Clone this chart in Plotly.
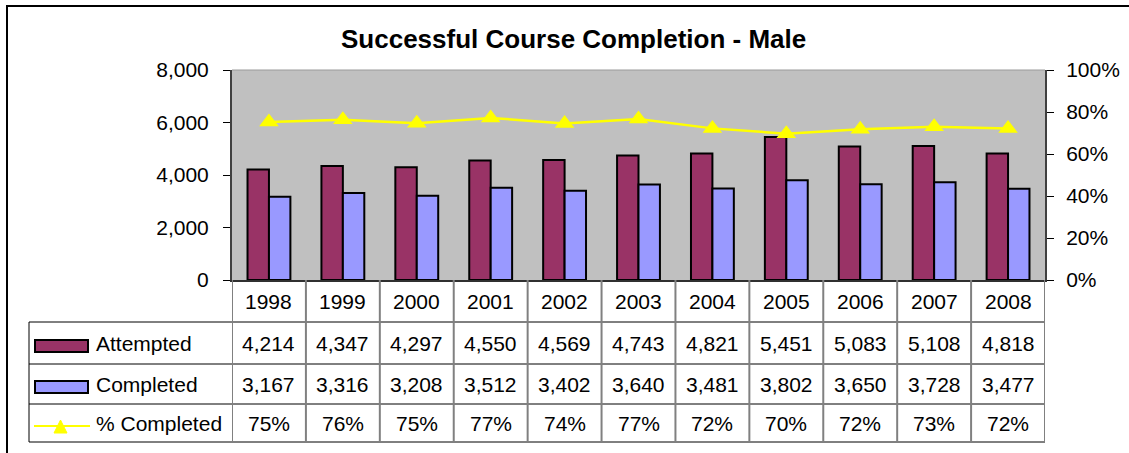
import plotly.graph_objects as go

# Data
years = ["1998", "1999", "2000", "2001", "2002", "2003", "2004", "2005", "2006", "2007", "2008"]
attempted = [4214, 4347, 4297, 4550, 4569, 4743, 4821, 5451, 5083, 5108, 4818]
completed = [3167, 3316, 3208, 3512, 3402, 3640, 3481, 3802, 3650, 3728, 3477]
pct_completed = [0.752, 0.763, 0.747, 0.772, 0.745, 0.767, 0.722, 0.697, 0.718, 0.730, 0.722]
left_ticks = [0, 2000, 4000, 6000, 8000]
right_ticks = [0, 0.2, 0.4, 0.6, 0.8, 1.0]

W, H = 1129, 453
FONT = "Liberation Sans, Arial, sans-serif"
C_ATT = "#993366"
C_COMP = "#9999FF"
C_LINE = "#FFFF00"


def px(x):
    return x / W


def py(y):
    return 1 - y / H


# plot area in pixels
PL, PR, PT, PB = 232, 1045, 70, 280
# table rows (pixel y)
ROW_Y = [280, 322, 364, 404, 442]
TABLE_LEFT = 29

xs = list(range(len(years)))

fig = go.Figure()
fig.add_trace(go.Bar(
    x=xs, y=attempted, name="Attempted",
    marker=dict(color=C_ATT, line=dict(color="black", width=2)),
))
fig.add_trace(go.Bar(
    x=xs, y=completed, name="Completed",
    marker=dict(color=C_COMP, line=dict(color="black", width=2)),
))
fig.add_trace(go.Scatter(
    x=xs, y=pct_completed, name="% Completed", yaxis="y2",
    mode="lines+markers",
    line=dict(color=C_LINE, width=2.5),
    marker=dict(symbol="triangle-up", size=17, color=C_LINE),
))

shapes = []
annotations = []

# outer chart border
shapes.append(dict(type="rect", xref="paper", yref="paper",
                   x0=px(7), x1=px(W + 20), y0=py(H + 20), y1=py(6),
                   line=dict(color="black", width=2), fillcolor="rgba(0,0,0,0)", layer="below"))
# top edge of plot area
shapes.append(dict(type="line", xref="paper", yref="paper",
                   x0=px(PL), x1=px(PR), y0=py(PT), y1=py(PT),
                   line=dict(color="#9A9A9A", width=1)))

# table horizontal rules
for yy in ROW_Y[1:]:
    shapes.append(dict(type="line", xref="paper", yref="paper",
                       x0=px(TABLE_LEFT), x1=px(PR), y0=py(yy), y1=py(yy),
                       line=dict(color="black", width=1)))
# table left edge
shapes.append(dict(type="line", xref="paper", yref="paper",
                   x0=px(TABLE_LEFT), x1=px(TABLE_LEFT), y0=py(ROW_Y[1]), y1=py(ROW_Y[-1]),
                   line=dict(color="black", width=1)))
# column separators between categories
for i in range(len(years) + 1):
    shapes.append(dict(type="line", xref="x", yref="paper",
                       x0=i - 0.5, x1=i - 0.5, y0=py(ROW_Y[0]), y1=py(ROW_Y[-1]),
                       line=dict(color="#808080", width=2)))

# year labels and table values
row_centers = [(ROW_Y[k] + ROW_Y[k + 1]) / 2 for k in range(4)]
for i, yr in enumerate(years):
    for k, txt in enumerate([yr, f"{attempted[i]:,}", f"{completed[i]:,}",
                             f"{round(pct_completed[i] * 100):d}%"]):
        annotations.append(dict(x=i, y=py(row_centers[k]), xref="x", yref="paper",
                                text=txt, showarrow=False, xanchor="center", yanchor="middle",
                                font=dict(family=FONT, size=21, color="black")))

# legend keys inside the table
labels = ["Attempted", "Completed", "% Completed"]
for k, lab in enumerate(labels):
    cy = row_centers[k + 1]
    annotations.append(dict(x=px(94), y=py(cy), xref="paper", yref="paper",
                            text=lab, showarrow=False, xanchor="left", yanchor="middle",
                            font=dict(family=FONT, size=21, color="black")))
for k, col in enumerate([C_ATT, C_COMP]):
    cy = row_centers[k + 1] + 3
    shapes.append(dict(type="rect", xref="paper", yref="paper",
                       x0=px(35), x1=px(88), y0=py(cy - 6), y1=py(cy + 6),
                       fillcolor=col, line=dict(color="black", width=2)))
cy = row_centers[3] + 3
shapes.append(dict(type="line", xref="paper", yref="paper",
                   x0=px(34), x1=px(90), y0=py(cy), y1=py(cy),
                   line=dict(color=C_LINE, width=2)))
shapes.append(dict(type="path", xref="paper", yref="paper",
                   path=f"M {px(54)} {py(cy + 7)} L {px(67)} {py(cy + 7)} L {px(60.5)} {py(cy - 6)} Z",
                   fillcolor=C_LINE, line=dict(color=C_LINE, width=1)))

# title
annotations.append(dict(x=px(573), y=py(39), xref="paper", yref="paper",
                        text="<b>Successful Course Completion - Male</b>", showarrow=False,
                        xanchor="center", yanchor="middle",
                        font=dict(family=FONT, size=26, color="black")))

axis_common = dict(automargin=False, showgrid=False, zeroline=False)

fig.update_layout(
    template="none",
    width=W, height=H,
    margin=dict(l=0, r=0, t=0, b=0, pad=0, autoexpand=False),
    paper_bgcolor="white",
    plot_bgcolor="#C0C0C0",
    showlegend=False,
    barmode="group",
    bargap=0.42,
    bargroupgap=0,
    font=dict(family=FONT, size=21, color="black"),
    xaxis=dict(domain=[px(PL), px(PR)], range=[-0.5, len(years) - 0.5],
               showticklabels=False, ticks="",
               showline=True, linecolor="#303030", linewidth=2, **axis_common),
    yaxis=dict(domain=[py(PB), py(PT)], range=[0, 8000], tickvals=left_ticks,
               tickformat=",", ticks="outside", ticklen=7, tickcolor="black", tickwidth=1,
               ticklabelstandoff=10,
               showline=True, linecolor="#404040", linewidth=2,
               tickfont=dict(family=FONT, size=21, color="black"), **axis_common),
    yaxis2=dict(overlaying="y", side="right", range=[0, 1], tickvals=right_ticks,
                tickformat=".0%", ticks="outside", ticklen=7, tickcolor="black", tickwidth=1,
                ticklabelstandoff=8,
                showline=True, linecolor="#404040", linewidth=2,
                tickfont=dict(family=FONT, size=21, color="black"), **axis_common),
    shapes=shapes,
    annotations=annotations,
)

fig.write_html("out.html")
